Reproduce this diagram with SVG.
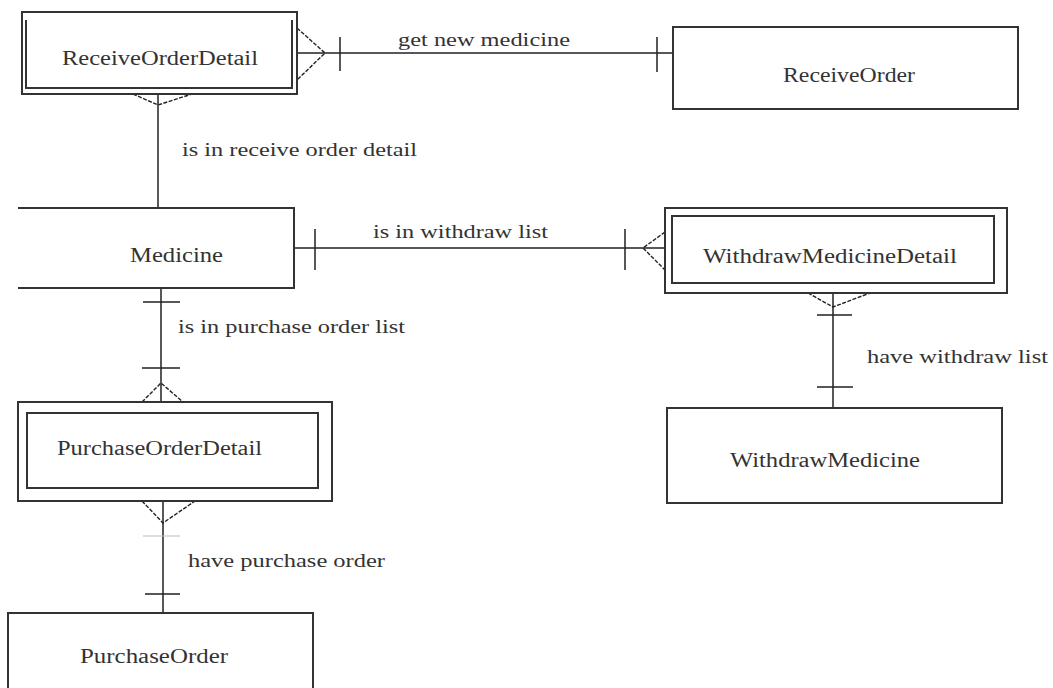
<svg xmlns="http://www.w3.org/2000/svg" width="1053" height="688" viewBox="0 0 1053 688">
<style>
.box{fill:#fff;stroke:#333;stroke-width:2}
.inner{fill:none;stroke:#333;stroke-width:2}
.ln{fill:none;stroke:#222;stroke-width:1.5}
.foot{fill:none;stroke:#222;stroke-width:1.4;stroke-dasharray:4,1.5}
.t{font-family:"Liberation Serif","Times New Roman",serif;font-size:20px;fill:#333}
.lbl{font-family:"Liberation Serif","Times New Roman",serif;font-size:18px;fill:#333}
</style>
<rect width="1053" height="688" fill="#fff"/>
<g id="connectors">
  <path class="ln" d="M297,53 H673 M340,37 V71 M657,37 V72"/>
  <path class="foot" d="M297,28 L325,53 L297,80"/>
  <text class="lbl" x="398" y="46" textLength="172" lengthAdjust="spacingAndGlyphs">get new medicine</text>
  <path class="ln" d="M158,94 V208"/>
  <path class="foot" d="M133,94 L158,105 L192,94"/>
  <text class="lbl" x="182" y="156" textLength="235" lengthAdjust="spacingAndGlyphs">is in receive order detail</text>
  <path class="ln" d="M294,248 H665 M315,229 V270 M625,229 V270"/>
  <path class="foot" d="M665,232 L643,248 L665,270"/>
  <text class="lbl" x="373" y="238" textLength="175" lengthAdjust="spacingAndGlyphs">is in withdraw list</text>
  <path class="ln" d="M833,293 V408 M817,315 H852 M817,387 H853"/>
  <path class="foot" d="M808,293 L833,307 L870,293"/>
  <text class="lbl" x="867" y="363" textLength="181" lengthAdjust="spacingAndGlyphs">have withdraw list</text>
  <path class="ln" d="M161,288 V402 M143,302 H180 M142,368 H180"/>
  <path class="foot" d="M142,402 L161,383 L183,402"/>
  <text class="lbl" x="178" y="333" textLength="227" lengthAdjust="spacingAndGlyphs">is in purchase order list</text>
  <path class="ln" d="M163,501 V613 M145,594 H180"/>
  <path d="M143,536 H180" stroke="#bbb" stroke-width="1.2"/>
  <path class="foot" d="M142,501 L163,523 L195,501"/>
  <text class="lbl" x="188" y="567" textLength="197" lengthAdjust="spacingAndGlyphs">have purchase order</text>
</g>
<g id="ReceiveOrderDetail">
  <rect class="box" x="22" y="12" width="275" height="82"/>
  <path class="inner" d="M26,20 V88 H292 V20"/>
  <text class="t" x="62" y="65" textLength="196" lengthAdjust="spacingAndGlyphs">ReceiveOrderDetail</text>
</g>
<g id="ReceiveOrder">
  <rect class="box" x="673" y="27" width="345" height="82"/>
  <text class="t" x="783" y="82" textLength="132" lengthAdjust="spacingAndGlyphs">ReceiveOrder</text>
</g>
<g id="Medicine">
  <path class="box" d="M18,208 H294 V288 H18"/>
  <text class="t" x="130" y="262" textLength="93" lengthAdjust="spacingAndGlyphs">Medicine</text>
</g>
<g id="WithdrawMedicineDetail">
  <rect class="box" x="665" y="208" width="342" height="85"/>
  <rect class="inner" x="672" y="216" width="322" height="67"/>
  <text class="t" x="703" y="263" textLength="254" lengthAdjust="spacingAndGlyphs">WithdrawMedicineDetail</text>
</g>
<g id="WithdrawMedicine">
  <rect class="box" x="667" y="408" width="335" height="95"/>
  <text class="t" x="730" y="467" textLength="190" lengthAdjust="spacingAndGlyphs">WithdrawMedicine</text>
</g>
<g id="PurchaseOrderDetail">
  <rect class="box" x="18" y="402" width="314" height="99"/>
  <rect class="inner" x="27" y="413" width="291" height="75"/>
  <text class="t" x="57" y="455" textLength="205" lengthAdjust="spacingAndGlyphs">PurchaseOrderDetail</text>
</g>
<g id="PurchaseOrder">
  <rect class="box" x="8" y="613" width="305" height="100"/>
  <text class="t" x="80" y="663" textLength="148" lengthAdjust="spacingAndGlyphs">PurchaseOrder</text>
</g>
</svg>
